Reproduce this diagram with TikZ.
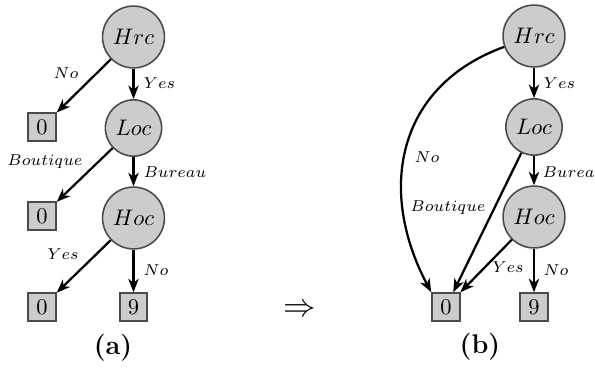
\documentclass[tikz,border=0pt]{standalone}
\usetikzlibrary{arrows.meta}
\definecolor{nodegray}{RGB}{204,204,204}
\definecolor{rimgray}{RGB}{75,75,75}
\begin{document}
\begin{tikzpicture}[x=0.4444pt,y=0.4444pt,
  var/.style={circle,draw=rimgray,fill=nodegray,line width=0.7pt,minimum size=27.5pt,inner sep=0pt},
  leaf/.style={rectangle,draw=rimgray,fill=nodegray,line width=0.9pt,minimum size=12.2pt,inner sep=0pt},
  branch/.style={line width=1pt,-{Stealth[length=6pt,width=4.6pt,inset=1.8pt]}},
  lab/.style={font=\scriptsize,inner sep=0.5pt}]
\useasboundingbox (0,0) rectangle (595,371);

% (a) the tree before
\node[var] (hrcA) at (133.5,334) {$Hrc$};
\node[var,minimum size=25pt] (locA) at (133.5,243) {$Loc$};
\node[var] (hocA) at (133.5,153) {$Hoc$};
\node[leaf] (zeroA) at (42,244) {0};
\node[leaf] (zeroB) at (42,155) {0};
\node[leaf] (zeroC) at (42,64) {0};
\node[leaf] (nineA) at (133.5,64) {9};

\draw[branch] (hrcA) -- (zeroA);
\draw[branch] (hrcA) -- (locA);
\draw[branch] (locA) -- (zeroB);
\draw[branch] (locA) -- (hocA);
\draw[branch] (hocA) -- (zeroC);
\draw[branch] (hocA) -- (nineA);

\node[lab] (noA) at (66,298) {$No$};
\node[lab,anchor=west] (yesA) at (142,288) {$Yes$};
\node[lab] (boutA) at (45,209) {$Boutique$};
\node[lab,anchor=west] (burA) at (142,199) {$Bureau$};
\node[lab] (yesB) at (63,117) {$Yes$};
\node[lab,anchor=west] (noB) at (142,101) {$No$};

\node[font=\large\bfseries] (capA) at (113,23) {(a)};

\node[font=\Large] (impl) at (300,60) {$\Rightarrow$};

% (b) the tree after
\node[var] (hrcB) at (534,335) {$Hrc$};
\node[var,minimum size=25pt] (locB) at (534,244) {$Loc$};
\node[var] (hocB) at (534,154) {$Hoc$};
\node[leaf] (zeroD) at (446,64) {0};
\node[leaf] (nineB) at (534,64) {9};

\draw[branch] (hrcB) to[out=200,in=118,looseness=1.15] (zeroD.north west);
\draw[branch] (hrcB) -- (locB);
\draw[branch] (locB) -- (zeroD);
\draw[branch] (locB) -- (hocB);
\draw[branch] (hocB) -- (zeroD);
\draw[branch] (hocB) -- (nineB);

\node[lab] (noC) at (427,214) {$No$};
\node[lab] (boutB) at (448,163) {$Boutique$};
\node[lab] (yesC) at (508,104) {$Yes$};
\node[lab,anchor=west] (yesD) at (542,288) {$Yes$};
\node[lab,anchor=west] (burB) at (541,199) {$Bureau$};
\node[lab,anchor=west] (noD) at (542,101) {$No$};

\node[font=\large\bfseries] (capB) at (480,24) {(b)};
\end{tikzpicture}
\end{document}
